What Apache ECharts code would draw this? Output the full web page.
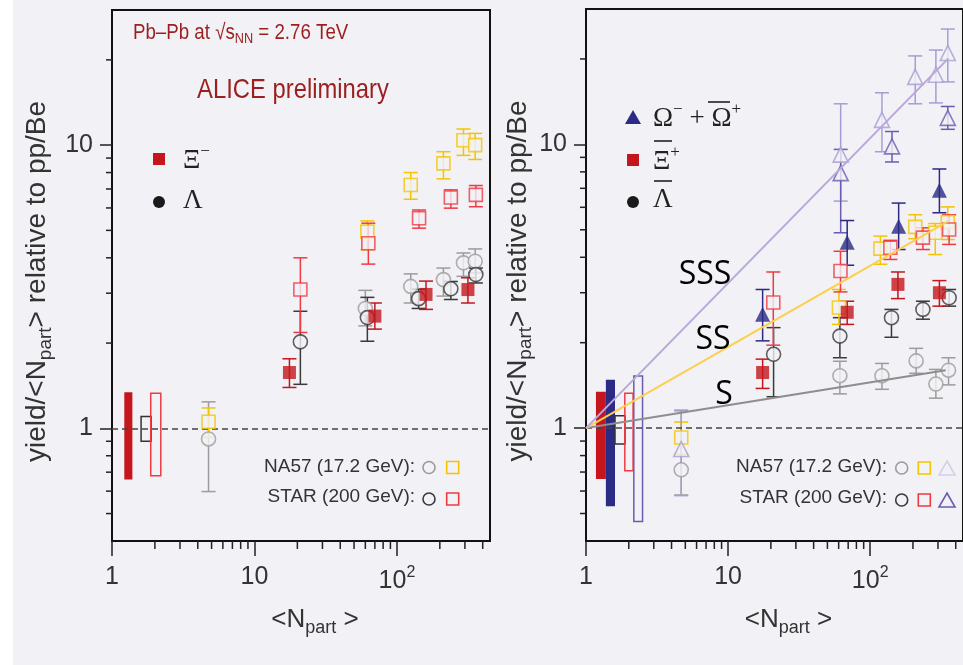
<!DOCTYPE html>
<html>
<head>
<meta charset="utf-8">
<script src="https://cdn.jsdelivr.net/npm/echarts@6/dist/echarts.min.js"></script>
<style>
html, body { margin: 0; padding: 0; background: #fff; }
#main { width: 963px; height: 665px; background: linear-gradient(to right, #fff 13px, #f1f1f6 13px); }
</style>
</head>
<body>
<div id="main"></div>
<script>
// axis ticks (same for both panels)
var xMajorTicks = [1, 10, 100];
var xMinorTicks = [2, 3, 4, 5, 6, 7, 8, 9, 20, 30, 40, 50, 60, 70, 80, 90, 200, 300, 400];
var yMajorTicks = [1, 10];
var yMinorTicks = [0.5, 0.6, 0.7, 0.8, 0.9, 2, 3, 4, 5, 6, 7, 8, 9, 20];

// left panel: [Npart, value, errLow, errHigh]
var leftNa57Xi = [[4.76, 1.055, 0.93, 1.18], [62, 4.95, 4.27, 5.4], [125, 7.23, 6.44, 8.0], [212, 8.62, 7.6, 9.48], [293, 10.4, 9.2, 11.4], [354, 10.0, 8.9, 11.0]];
var leftStarXi = [[21, 3.09, 2.18, 4.0], [63, 4.5, 3.8, 5.3], [143, 5.52, 5.09, 5.9], [239, 6.53, 5.99, 6.95], [358, 6.67, 6.06, 7.2]];
var leftAliceXi = [[17.6, 1.574, 1.394, 1.76], [70, 2.49, 2.24, 2.77], [160, 2.97, 2.63, 3.31], [315, 3.09, 2.77, 3.4]];
var leftNa57Lambda = [[4.76, 0.917, 0.598, 1.24], [60, 2.65, 2.3, 3.07], [125, 3.17, 2.77, 3.51], [212, 3.35, 2.93, 3.68], [293, 3.84, 3.44, 4.16], [354, 3.89, 3.54, 4.3]];
var leftStarLambda = [[21, 2.02, 1.43, 2.59], [62, 2.46, 2.03, 2.9], [142, 2.87, 2.65, 3.1], [239, 3.11, 2.85, 3.3], [358, 3.49, 3.26, 3.68]];

// left panel normalisation boxes: [x0, x1, y0, y1]
var leftBoxAlice = [[1.22, 1.39, 0.66, 1.34]];
var leftBoxPp = [[1.6, 1.88, 0.9, 1.1]];
var leftBoxStar = [[1.87, 2.2, 0.68, 1.33]];

// right panel: [Npart, value, errLow, errHigh]
var rightAliceOmega = [[17.5, 2.52, 2.03, 3.08], [68.9, 4.52, 3.75, 5.39], [158.6, 5.15, 4.26, 6.21], [307, 6.89, 5.74, 8.19]];
var rightAliceXi = [[17.5, 1.57, 1.38, 1.75], [68.9, 2.56, 2.32, 2.8], [156.8, 3.21, 2.86, 3.55], [307, 3.0, 2.69, 3.31]];
var rightStarXi = [[20.8, 2.77, 1.96, 3.55], [61.8, 3.58, 3.02, 4.2], [138.7, 4.32, 3.93, 4.59], [235, 4.69, 4.26, 5.08], [359.5, 5.01, 4.44, 5.65]];
var rightNa57Xi = [[4.68, 0.927, 0.81, 1.05], [60.3, 2.66, 2.32, 3.08], [118, 4.29, 3.78, 4.75], [207.5, 5.12, 4.65, 5.65], [287, 4.88, 4.09, 5.26], [351.7, 5.32, 4.62, 6.02]];
var rightStarLambda = [[20.9, 1.82, 1.29, 2.26], [61.2, 2.11, 1.77, 2.45], [141.2, 2.45, 2.09, 2.62], [235, 2.62, 2.42, 2.8], [359.5, 2.88, 2.69, 3.08]];
var rightNa57Lambda = [[4.68, 0.713, 0.581, 1.157], [61.2, 1.53, 1.32, 1.72], [121, 1.53, 1.37, 1.69], [210.6, 1.725, 1.56, 1.91], [290, 1.43, 1.275, 1.61], [356, 1.6, 1.42, 1.77]];
var rightNa57Omega = [[4.68, 0.844, 0.578, 1.15], [62, 9.2, 6.31, 13.9], [121, 12.2, 9.42, 15.2], [207.5, 17.3, 13.9, 20.5], [290, 17.6, 14.0, 21.5], [351.7, 21.0, 16.6, 25.5]];
var rightStarOmega = [[62, 7.92, 4.88, 9.6], [142.4, 9.84, 8.67, 11.1], [351.7, 12.4, 11.3, 13.6]];

// right panel boxes: [x0, x1, y0, y1]
var rightBoxAliceXi = [[1.175, 1.38, 0.662, 1.342]];
var rightBoxAliceOmega = [[1.38, 1.6, 0.53, 1.48]];
var rightBoxPp = [[1.6, 1.88, 0.879, 1.105]];
var rightBoxStarXi = [[1.876, 2.145, 0.708, 1.328]];
var rightBoxStarOmega = [[2.17, 2.5, 0.469, 1.527]];

// strangeness scaling lines
var lineS = [[1, 1], [340, 1.6]];
var lineSS = [[1, 1], [355, 5.36]];
var lineSSS = [[1, 1], [355, 20.1]];

var X_MIN = 1, X_MAX = 450, Y_MIN = 0.4, Y_MAX = 30;
var BG = '#f1f1f6';
var C = {
  aliceRed: '#c4161c', starRed: '#ef3a42', yellow: '#f5c400', grey: '#9c9c9c', dark: '#3a3a3a',
  blue: '#2b2a85', starPurple: '#6a5cb0', na57Purple: '#a69ed2', lineSSS: '#b9a6dc', lineSS: '#fccf4d', lineS: '#8e8e8e'
};
var SANS = "'Liberation Sans', Arial, sans-serif";
var SERIF = "'Liberation Serif', 'DejaVu Serif', serif";

var chart = echarts.init(document.getElementById('main'));

function errRender(color) {
  return function (params, api) {
    var x = api.value(0);
    var top = api.coord([x, api.value(3)]);
    var bot = api.coord([x, api.value(2)]);
    var st = { stroke: color, lineWidth: 1.5 };
    return { type: 'group', children: [
      { type: 'line', shape: { x1: top[0], y1: top[1], x2: bot[0], y2: bot[1] }, style: st },
      { type: 'line', shape: { x1: top[0] - 7, y1: top[1], x2: top[0] + 7, y2: top[1] }, style: st },
      { type: 'line', shape: { x1: bot[0] - 7, y1: bot[1], x2: bot[0] + 7, y2: bot[1] }, style: st }
    ] };
  };
}

function boxRender(fill, stroke) {
  return function (params, api) {
    var a = api.coord([api.value(0), api.value(3)]);
    var b = api.coord([api.value(1), api.value(2)]);
    return { type: 'rect', shape: { x: a[0], y: a[1], width: b[0] - a[0], height: b[1] - a[1] },
      style: { fill: fill, stroke: stroke, lineWidth: 1.5 } };
  };
}

// minor ticks on the log axes, placed through the axis scale
function minorTickSeries(p) {
  return [{
    type: 'custom', xAxisIndex: p, yAxisIndex: p, clip: false, silent: true, z: 7,
    data: xMinorTicks.map(function (v) { return [v, Y_MIN]; }),
    renderItem: function (params, api) {
      var c = api.coord([api.value(0), Y_MIN]);
      return { type: 'line', shape: { x1: c[0], y1: c[1], x2: c[0], y2: c[1] + 8 }, style: { stroke: '#222', lineWidth: 1.5 } };
    }
  }, {
    type: 'custom', xAxisIndex: p, yAxisIndex: p, clip: false, silent: true, z: 7,
    data: yMinorTicks.map(function (v) { return [X_MIN, v]; }),
    renderItem: function (params, api) {
      var c = api.coord([X_MIN, api.value(1)]);
      return { type: 'line', shape: { x1: c[0], y1: c[1], x2: c[0] - 6, y2: c[1] }, style: { stroke: '#222', lineWidth: 1.5 } };
    }
  }];
}

function errSeries(data, color, p) {
  return { type: 'custom', xAxisIndex: p, yAxisIndex: p, data: data, renderItem: errRender(color), z: 3 };
}
function boxSeries(data, fill, stroke, p) {
  return { type: 'custom', xAxisIndex: p, yAxisIndex: p, data: data, renderItem: boxRender(fill, stroke), z: 4 };
}
function pointSeries(data, symbol, color, filled, p, size) {
  return { type: 'scatter', xAxisIndex: p, yAxisIndex: p, data: data, symbol: symbol, symbolSize: size || 13, z: 5,
    itemStyle: filled ? { color: color } : { color: BG, borderColor: color, borderWidth: 1.6 } };
}
function lineSeries(data, color) {
  return { type: 'line', xAxisIndex: 1, yAxisIndex: 1, data: data, showSymbol: false, z: 6,
    lineStyle: { color: color, width: 2 } };
}
function dashSeries(p) {
  return { type: 'line', xAxisIndex: p, yAxisIndex: p, data: [], z: 2,
    markLine: { silent: true, symbol: 'none', label: { show: false },
      lineStyle: { type: [6, 4], color: '#444', width: 1.5 }, data: [{ yAxis: 1 }] } };
}

var tickLine = { color: '#222', width: 1.5 };
function xLabel(v) { return Math.abs(v - 100) < 1e-6 ? '10{sup|2}' : '' + Math.round(v); }

function xAxis(g) {
  return {
    type: 'log', logBase: 10, gridIndex: g, min: X_MIN, max: X_MAX, position: 'bottom',
    name: '<N{sub|part} >', nameLocation: 'middle', nameGap: 62,
    nameTextStyle: { fontFamily: SANS, fontSize: 26, color: '#333', padding: [0, 0, 0, 28],
      rich: { sub: { fontFamily: SANS, fontSize: 18, color: '#333', padding: [16, 0, 0, 0] } } },
    axisLine: { show: true, lineStyle: { color: '#111', width: 2 } },
    axisTick: { show: true, length: 15, lineStyle: tickLine, customValues: xMajorTicks },
    splitLine: { show: false },
    axisLabel: { customValues: xMajorTicks, margin: 24, fontFamily: SANS, fontSize: 25, color: '#333', formatter: xLabel,
      rich: { sup: { fontFamily: SANS, fontSize: 16, color: '#333', padding: [0, 0, 16, 0] } } }
  };
}

function yAxis(g, gap) {
  return {
    type: 'log', logBase: 10, gridIndex: g, min: Y_MIN, max: Y_MAX, position: 'left',
    name: 'yield/<N{sub|part}> relative to pp/Be', nameLocation: 'middle', nameGap: gap, nameRotate: 90,
    nameTextStyle: { fontFamily: SANS, fontSize: 28, color: '#333', padding: [0, 12, 0, 0],
      rich: { sub: { fontFamily: SANS, fontSize: 19, color: '#333', padding: [16, 0, 0, 0] } } },
    axisLine: { show: true, lineStyle: { color: '#111', width: 2 } },
    axisTick: { show: true, length: 12, lineStyle: tickLine, customValues: yMajorTicks },
    splitLine: { show: false },
    axisLabel: { customValues: yMajorTicks, margin: 19, fontFamily: SANS, fontSize: 25, color: '#333' }
  };
}

function txt(text, x, y, font, fill, align, rich, sx) {
  return { type: 'text', z: 10, x: x, y: y, scaleX: sx || 1,
    style: { text: text, x: 0, y: 0, font: font, fill: fill || '#222', align: align || 'left', verticalAlign: 'middle', rich: rich } };
}
function sq(cx, cy, stroke, fill) {
  return { type: 'rect', z: 10, shape: { x: cx - 6, y: cy - 6, width: 12, height: 12 },
    style: { fill: fill || 'none', stroke: fill ? null : stroke, lineWidth: 1.6 } };
}
function circ(cx, cy, stroke, fill) {
  return { type: 'circle', z: 10, shape: { cx: cx, cy: cy, r: 6 },
    style: { fill: fill || 'none', stroke: fill ? null : stroke, lineWidth: 1.6 } };
}
function tri(cx, cy, stroke, fill) {
  return { type: 'polygon', z: 10, shape: { points: [[cx, cy - 8], [cx + 8, cy + 6], [cx - 8, cy + 6]] },
    style: { fill: fill || 'none', stroke: fill ? null : stroke, lineWidth: 1.6 } };
}
function bar(x1, x2, y) {
  return { type: 'line', z: 10, shape: { x1: x1, y1: y, x2: x2, y2: y }, style: { stroke: '#222', lineWidth: 1.6 } };
}

var supRich = { sup: { font: '17px ' + SERIF, fill: '#222', padding: [0, 0, 18, 0] } };
var subRich = { sub: { font: '15px ' + SANS, fill: '#9b1f1f', padding: [12, 0, 0, 0] } };

var option = {
  animation: false,
  backgroundColor: 'transparent',
  grid: [
    { left: 112, top: 10, width: 378, height: 531, show: true, borderColor: '#111', borderWidth: 2, backgroundColor: 'transparent' },
    { left: 586, top: 9, width: 378, height: 532, show: true, borderColor: '#111', borderWidth: 2, backgroundColor: 'transparent' }
  ],
  xAxis: [xAxis(0), xAxis(1)],
  yAxis: [yAxis(0, 57), yAxis(1, 49)],
  series: [].concat(
    minorTickSeries(0),
    minorTickSeries(1),
    [
      dashSeries(0),
      boxSeries(leftBoxAlice, C.aliceRed, null, 0),
      boxSeries(leftBoxPp, 'none', '#333', 0),
      boxSeries(leftBoxStar, 'none', C.starRed, 0),
      errSeries(leftNa57Lambda, C.grey, 0),
      errSeries(leftStarLambda, C.dark, 0),
      errSeries(leftNa57Xi, C.yellow, 0),
      errSeries(leftStarXi, C.starRed, 0),
      errSeries(leftAliceXi, C.aliceRed, 0),
      pointSeries(leftNa57Lambda, 'circle', C.grey, false, 0, 14),
      pointSeries(leftStarLambda, 'circle', C.dark, false, 0, 14),
      pointSeries(leftNa57Xi, 'rect', C.yellow, false, 0),
      pointSeries(leftStarXi, 'rect', C.starRed, false, 0),
      pointSeries(leftAliceXi, 'rect', C.aliceRed, true, 0),

      dashSeries(1),
      boxSeries(rightBoxAliceXi, C.aliceRed, null, 1),
      boxSeries(rightBoxAliceOmega, C.blue, null, 1),
      boxSeries(rightBoxPp, 'none', '#333', 1),
      boxSeries(rightBoxStarXi, 'none', C.starRed, 1),
      boxSeries(rightBoxStarOmega, 'none', C.starPurple, 1),
      lineSeries(lineS, C.lineS),
      lineSeries(lineSS, C.lineSS),
      lineSeries(lineSSS, C.lineSSS),
      errSeries(rightNa57Lambda, C.grey, 1),
      errSeries(rightStarLambda, C.dark, 1),
      errSeries(rightNa57Xi, C.yellow, 1),
      errSeries(rightStarXi, C.starRed, 1),
      errSeries(rightNa57Omega, C.na57Purple, 1),
      errSeries(rightStarOmega, C.starPurple, 1),
      errSeries(rightAliceXi, C.aliceRed, 1),
      errSeries(rightAliceOmega, C.blue, 1),
      pointSeries(rightNa57Lambda, 'circle', C.grey, false, 1, 14),
      pointSeries(rightStarLambda, 'circle', C.dark, false, 1, 14),
      pointSeries(rightNa57Xi, 'rect', C.yellow, false, 1),
      pointSeries(rightStarXi, 'rect', C.starRed, false, 1),
      pointSeries(rightNa57Omega, 'triangle', C.na57Purple, false, 1, 15),
      pointSeries(rightStarOmega, 'triangle', C.starPurple, false, 1, 15),
      pointSeries(rightAliceXi, 'rect', C.aliceRed, true, 1),
      pointSeries(rightAliceOmega, 'triangle', C.blue, true, 1, 15)
    ]
  ),
  graphic: [
    // left panel annotations
    txt('Pb\u2013Pb at \u221as{sub|NN} = 2.76 TeV', 133, 33, '22px ' + SANS, '#9b1f1f', 'left', subRich, 0.85),
    txt('ALICE preliminary', 293, 90, '28px ' + SANS, '#9b1f1f', 'center', null, 0.85),
    sq(159, 159, null, C.aliceRed),
    txt('\u039e{sup|\u2212}', 183, 161, '27px ' + SERIF, '#222', 'left', supRich),
    circ(159, 202, null, '#1a1a1a'),
    txt('\u039b', 183, 201, '27px ' + SERIF),
    txt('NA57 (17.2 GeV):', 415, 467, '19px ' + SANS, '#333', 'right'),
    circ(429, 467.5, C.grey), sq(452.7, 467.5, C.yellow),
    txt('STAR (200 GeV):', 415, 497, '19px ' + SANS, '#333', 'right'),
    circ(429, 499, C.dark), sq(452.7, 499, C.starRed),

    // right panel annotations
    tri(633, 118, null, C.blue),
    txt('\u03a9{sup|\u2212} + \u03a9{sup|+}', 653, 119, '27px ' + SERIF, '#222', 'left', supRich),
    bar(708, 730, 102),
    sq(633, 160, null, C.aliceRed),
    txt('\u039e{sup|+}', 653, 162, '27px ' + SERIF, '#222', 'left', supRich),
    bar(654, 672, 141),
    circ(633, 202, null, '#1a1a1a'),
    txt('\u039b', 653, 200, '27px ' + SERIF),
    bar(654, 672, 181),
    txt('SSS', 705, 275, '32px ' + "'Open Sans', sans-serif", '#000', 'center'),
    txt('SS', 713, 340, '32px ' + "'Open Sans', sans-serif", '#000', 'center'),
    txt('S', 724, 395, '32px ' + "'Open Sans', sans-serif", '#000', 'center'),
    txt('NA57 (17.2 GeV):', 887, 467, '19px ' + SANS, '#333', 'right'),
    circ(901.7, 468, C.grey), sq(924.3, 468, C.yellow), tri(947, 469, '#d3cfe9'),
    txt('STAR (200 GeV):', 887, 498, '19px ' + SANS, '#333', 'right'),
    circ(901.7, 500, C.dark), sq(924.3, 500, C.starRed), tri(947, 501, C.starPurple)
  ]
};

chart.setOption(option);
</script>
</body>
</html>
